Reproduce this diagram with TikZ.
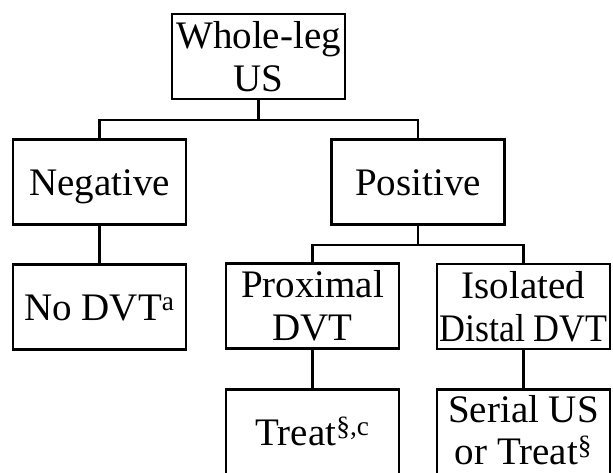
\documentclass[tikz,border=0pt]{standalone}
\usepackage{fontspec}
\setmainfont{Liberation Serif}
\begin{document}
\begin{tikzpicture}[x=1pt,y=-1pt,
  box/.style={draw, line width=2.7pt, minimum width=173pt, minimum height=85pt,
    inner sep=0pt, align=center, font=\fontsize{39}{43}\selectfont,
    text depth=0pt},
  one/.style={text height=26pt},
  two/.style={text height=69pt},
  link/.style={line width=2.7pt}]
\useasboundingbox (0,0) rectangle (613,472);
\clip (0,0) rectangle (613,472);
\node[box,two] (whole) at (258.5,56.5) {Whole-leg\\US};
\node[box,one] (neg) at (99.5,182) {Negative};
\node[box,one] (pos) at (418,182) {Positive};
\node[box,one] (nodvt) at (99.5,307) {No DVT\textsuperscript{a}};
\node[box,two] (prox) at (312.5,306) {Proximal\\DVT};
\node[box,two] (iso) at (523.5,306.5) {Isolated\\\scalebox{0.92}[1]{Distal DVT}};
\node[box,one] (treat) at (312.5,432) {Treat\textsuperscript{§,c}};
\node[box,two,text height=64pt,font=\fontsize{39}{42}\selectfont] (serial) at (523.5,432) {Serial US\\or Treat\textsuperscript{§}};
\coordinate (bar1) at (258.5,120);
\coordinate (bar2) at (418,245);
\draw[link] (whole.south) -- (bar1);
\draw[link] (neg.north) |- (bar1) -| (pos.north);
\draw[link] (neg.south) -- (nodvt.north);
\draw[link] (pos.south) -- (bar2);
\draw[link] (prox.north) |- (bar2) -| (iso.north);
\draw[link] (prox.south) -- (treat.north);
\draw[link] (iso.south) -- (serial.north);
\end{tikzpicture}
\end{document}
